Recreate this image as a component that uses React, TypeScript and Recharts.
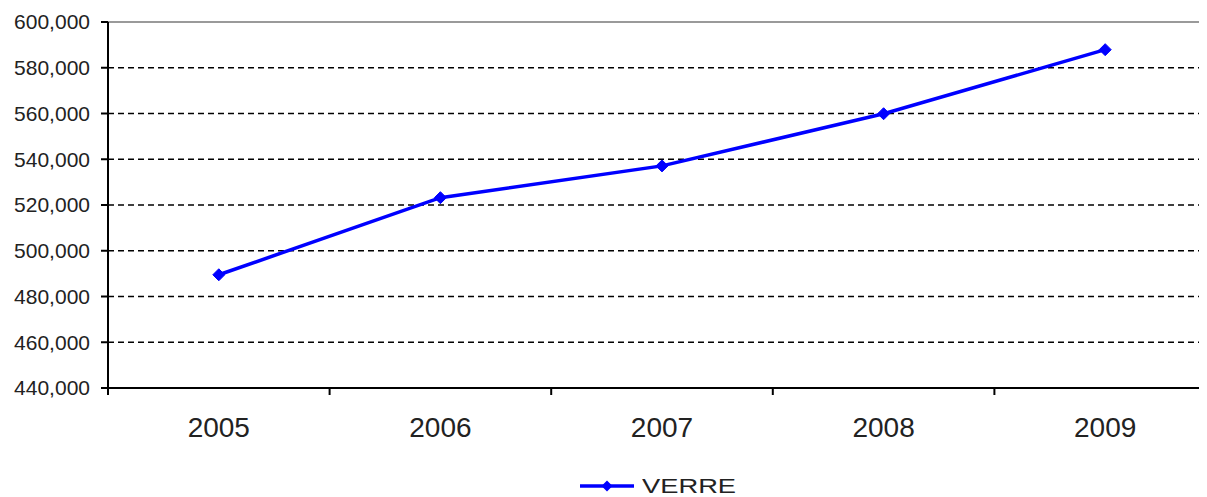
import React from "react";
import {
  LineChart,
  Line,
  XAxis,
  YAxis,
  CartesianGrid,
  ReferenceLine,
  Legend,
} from "recharts";

const years = ["2005", "2006", "2007", "2008", "2009"];
const verre = [489500, 523200, 537100, 559900, 587900];
const yTicks = [440000, 460000, 480000, 500000, 520000, 540000, 560000, 580000, 600000];
const seriesName = "VERRE";

const CHART_W = 1215;
const CHART_H = 489;
const MARGIN = { top: 14, right: 7, bottom: 0, left: 0 };
const YAXIS_W = 100;
const PLOT_W = CHART_W - MARGIN.left - MARGIN.right - YAXIS_W;
const BAND = PLOT_W / years.length;
const FONT = "'Liberation Sans', Arial, sans-serif";
const BLUE = "#0000FF";

const data = years.map((y, i) => ({ pos: i + 0.5, year: y, value: verre[i] }));
const xTicks = years.map((_, i) => i).concat([years.length]);

const Diamond = (props: any) => {
  const { cx, cy, index } = props;
  if (cx == null || cy == null) return <g key={index} />;
  const r = 6;
  return (
    <path
      key={index}
      d={`M${cx},${cy - r} L${cx + r},${cy} L${cx},${cy + r} L${cx - r},${cy} Z`}
      fill={BLUE}
      stroke={BLUE}
      strokeWidth={1}
    />
  );
};

const XTick = (props: any) => {
  const { x, y, payload } = props;
  const label = years[payload.value];
  if (label === undefined) return <g />;
  return (
    <text
      x={x + BAND / 2}
      y={y}
      dy="0.71em"
      textAnchor="middle"
      fill="#222"
      fontSize={28}
      fontFamily={FONT}
    >
      {label}
    </text>
  );
};

const LegendContent = () => (
  <div
    style={{
      height: 40,
      paddingTop: 18,
      boxSizing: "border-box",
      display: "flex",
      alignItems: "center",
      paddingLeft: 572,
    }}
  >
    <svg width={54} height={14} style={{ display: "block" }}>
      <line x1={0} y1={7} x2={54} y2={7} stroke={BLUE} strokeWidth={3.5} />
      <path d="M27,1.5 L32.5,7 L27,12.5 L21.5,7 Z" fill={BLUE} />
    </svg>
    <span
      style={{
        marginLeft: 8,
        fontFamily: FONT,
        fontSize: 21,
        color: "#222",
        lineHeight: "22px",
        display: "inline-block",
        transform: "scaleX(1.3)",
        transformOrigin: "left center",
      }}
    >
      {seriesName}
    </span>
  </div>
);

export default function App() {
  return (
    <div style={{ width: CHART_W, height: CHART_H }}>
      <style>{`html{overflow:hidden;} #root{width:${CHART_W}px;}`}</style>
      <LineChart width={CHART_W} height={CHART_H} data={data} margin={MARGIN}>
        <CartesianGrid
          vertical={false}
          stroke="#000"
          strokeWidth={1.3}
          strokeDasharray="6 4"
        />
        <XAxis
          type="number"
          dataKey="pos"
          domain={[0, years.length]}
          ticks={xTicks}
          interval={0}
          allowDataOverflow
          height={69}
          axisLine={{ stroke: "#000", strokeWidth: 2 }}
          tickLine={{ stroke: "#000", strokeWidth: 2 }}
          tickSize={7}
          tickMargin={22}
          tick={<XTick />}
        />
        <YAxis
          type="number"
          domain={[440000, 600000]}
          ticks={yTicks}
          interval={0}
          width={YAXIS_W}
          axisLine={{ stroke: "#000", strokeWidth: 2 }}
          tickLine={{ stroke: "#000", strokeWidth: 2 }}
          tickSize={7}
          tickMargin={11}
          tickFormatter={(v: number) => v.toLocaleString("en-US")}
          tick={{ fill: "#222", fontSize: 21, fontFamily: FONT }}
        />
        <ReferenceLine y={600000} stroke="#9a9a9a" strokeWidth={2} />
        <Line
          type="linear"
          dataKey="value"
          name={seriesName}
          stroke={BLUE}
          strokeWidth={3.5}
          dot={<Diamond />}
          activeDot={false}
          isAnimationActive={false}
        />
        <Legend
          verticalAlign="bottom"
          content={<LegendContent />}
          wrapperStyle={{ left: 0, width: CHART_W }}
        />
      </LineChart>
    </div>
  );
}
